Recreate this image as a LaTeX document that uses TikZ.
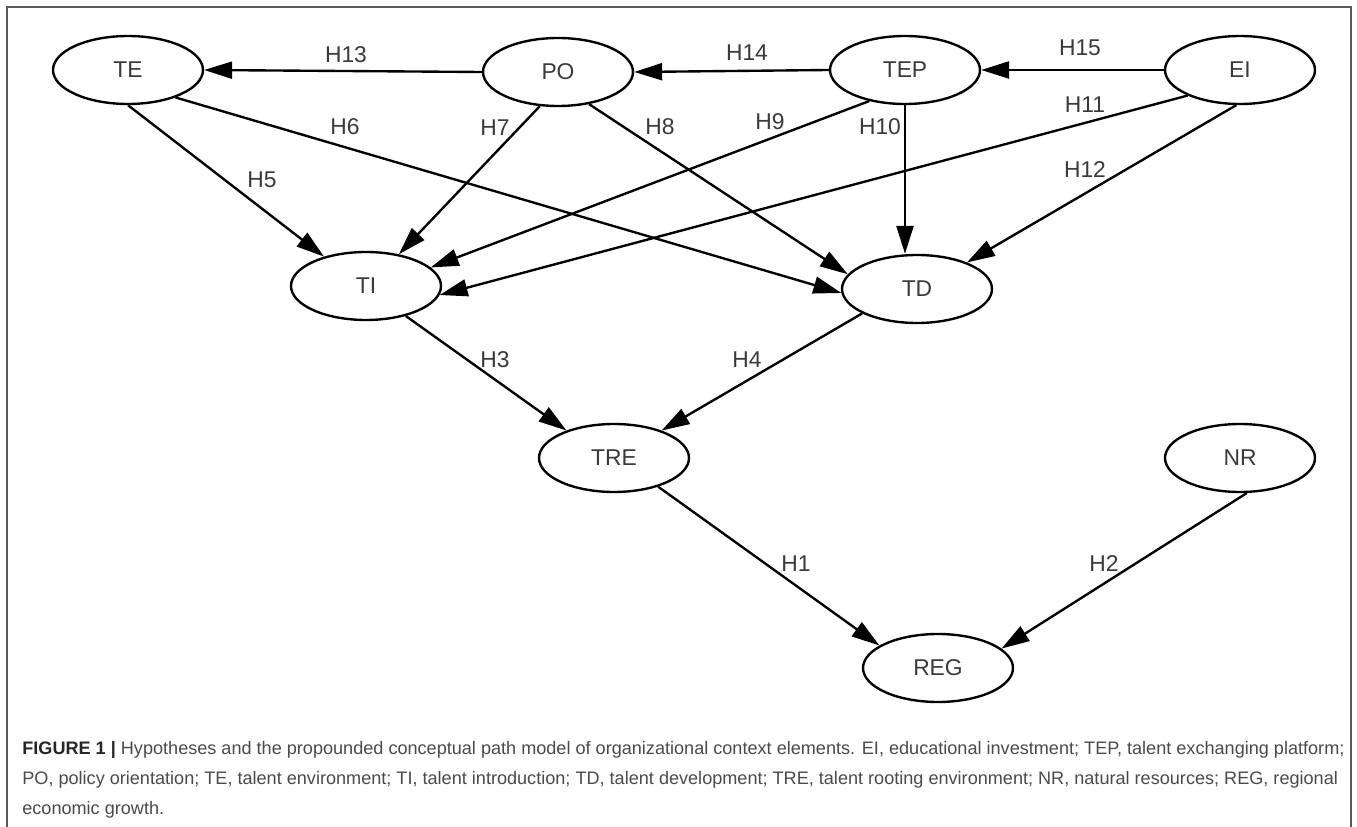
\documentclass[tikz,border=0pt]{standalone}
\usepackage{fontspec}
\setmainfont{Liberation Sans}
\usetikzlibrary{shapes.geometric,arrows.meta}
\definecolor{txtgray}{HTML}{3A3A3A}
\definecolor{capgray}{HTML}{4A4A4A}
\definecolor{framegray}{HTML}{5A5A5A}

\begin{document}
\begin{tikzpicture}[x=0.02cm,y=-0.02cm,
    var/.style={draw,ellipse,line width=1.35pt,minimum width=3cm,minimum height=1.36cm,inner sep=0pt,text=txtgray,font=\fontsize{13}{15}\selectfont},
    hyp/.style={line width=1.35pt,-{Triangle[length=0.56cm,width=0.34cm]}},
    lab/.style={text=txtgray,font=\fontsize{13}{15}\selectfont}]
        \useasboundingbox (0,0) rectangle (1357,827);
        \draw[framegray,line width=0.8pt] (7,827)--(7,7)--(1351,7)--(1351,827);
        % variables
        \node[var] (TE) at (128,70) {TE};
        \node[var] (PO) at (558,72) {PO};
        \node[var] (TEP) at (905,70) {TEP};
        \node[var] (EI) at (1240,70) {EI};
        \node[var] (TI) at (366,286) {TI};
        \node[var] (TD) at (917,289) {TD};
        \node[var] (TRE) at (614,458) {TRE};
        \node[var] (NR) at (1240,458) {NR};
        \node[var] (REG) at (938,668) {REG};
        % hypotheses
        \draw[hyp] (PO.west)--(TE.east);
        \draw[hyp] (TEP.west)--(PO.east);
        \draw[hyp] (EI.west)--(TEP.east);
        \draw[hyp] (TE.-90)--(TI.145);
        \draw[hyp] (TE.-30)--(TD.183);
        \draw[hyp] (PO.242)--(TI.44);
        \draw[hyp] (PO.-46)--(TD.168);
        \draw[hyp] (TEP.221)--(TI.16);
        \draw[hyp] (TEP.south)--(TEP.south |- TD.north);
        \draw[hyp] (EI.206)--(TI.-7);
        \draw[hyp] (EI.264)--(TD.28);
        \draw[hyp] (TI.-37)--(TRE.150);
        \draw[hyp] (TD.204)--(TRE.30);
        \draw[hyp] (TRE.-33)--(REG.159);
        \draw[hyp] (NR.281)--(REG.17);
        \node[lab] (h1) at (796,564) {H1};
        \node[lab] (h2) at (1104,564) {H2};
        \node[lab] (h3) at (495,360) {H3};
        \node[lab] (h4) at (747,360) {H4};
        \node[lab] (h5) at (262,180) {H5};
        \node[lab] (h6) at (345,127) {H6};
        \node[lab] (h7) at (495,128) {H7};
        \node[lab] (h8) at (660,127) {H8};
        \node[lab] (h9) at (770,122) {H9};
        \node[lab] (h10) at (880,127) {H10};
        \node[lab] (h11) at (1085,105) {H11};
        \node[lab] (h12) at (1085,170) {H12};
        \node[lab] (h13) at (346,55) {H13};
        \node[lab] (h14) at (747,53) {H14};
        \node[lab] (h15) at (1080,48) {H15};
        % caption
        \node[anchor=north west,align=left,inner sep=0pt,text=capgray,font=\fontsize{10.3}{17}\selectfont] (cap) at (22,741)
            {\textcolor{black!85}{\textbf{FIGURE 1 |}} Hypotheses and the propounded conceptual path model of organizational context elements. EI, educational investment; TEP, talent exchanging platform;\\
             PO, policy orientation; TE, talent environment; TI, talent introduction; TD, talent development; TRE, talent rooting environment; NR, natural resources; REG, regional\\
             economic growth.};
    \end{tikzpicture}
\end{document}
